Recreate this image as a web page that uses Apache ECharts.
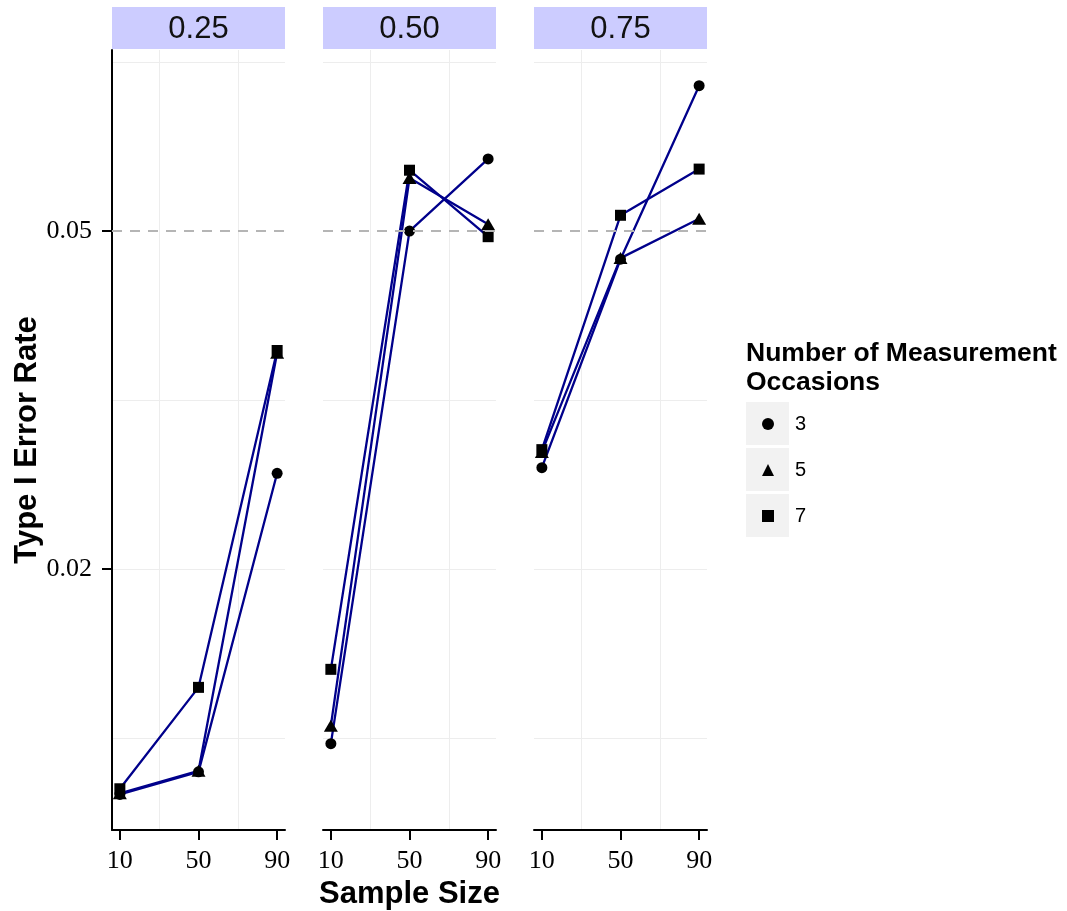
<!DOCTYPE html>
<html>
<head>
<meta charset="utf-8">
<script src="https://cdn.jsdelivr.net/npm/echarts@6/dist/echarts.min.js"></script>
<style>
  html, body { margin: 0; padding: 0; background: #ffffff; }
  #chart { width: 1067px; height: 911px; }
</style>
</head>
<body>
<div id="chart"></div>
<script>
// ---------------- data ----------------
const sampleSizes = [10, 50, 90];
const panelLabels = ['0.25', '0.50', '0.75'];
const occasions = ['3', '5', '7'];

// Type I error rate per facet and number of occasions, at n = 10, 50, 90
const p025_occ3 = [0.0000, 0.0020, 0.0285];
const p025_occ5 = [0.0001, 0.0021, 0.0392];
const p025_occ7 = [0.0005, 0.0095, 0.0394];

const p050_occ3 = [0.0045, 0.0500, 0.0564];
const p050_occ5 = [0.0061, 0.0547, 0.0506];
const p050_occ7 = [0.0111, 0.0554, 0.0495];

const p075_occ3 = [0.0290, 0.0475, 0.0629];
const p075_occ5 = [0.0304, 0.0476, 0.0511];
const p075_occ7 = [0.0306, 0.0514, 0.0555];

const yTicks = [0.02, 0.05];
const yMinorGrid = [0.005, 0.02, 0.035, 0.065];
const xTicks = [10, 50, 90];
const xMinorGrid = [30, 70];
const alphaLine = 0.05;

// ---------------- layout / style ----------------
const panelData = [
  [p025_occ3, p025_occ5, p025_occ7],
  [p050_occ3, p050_occ5, p050_occ7],
  [p075_occ3, p075_occ5, p075_occ7]
];
const panelLefts = [112, 323, 534];
const panelWidth = 173;
const panelTop = 50;
const panelHeight = 780;
const yMin = -0.00316, yMax = 0.06607;
const xMin = 6, xMax = 94;
const symbols = ['circle', 'triangle', 'rect'];
const symbolSizes = [11, [14, 12], 11];
const lineColor = '#00008B';
const gridColor = '#ededed';
const sans = '"Liberation Sans", Arial, sans-serif';
const serif = '"Liberation Serif", "Times New Roman", serif';

const chart = echarts.init(document.getElementById('chart'), null, { renderer: 'canvas' });

const grids = [], xAxes = [], yAxes = [], series = [], graphics = [];

panelLefts.forEach((left, p) => {
  grids.push({
    left: left, top: panelTop, width: panelWidth, height: panelHeight,
    containLabel: false, outerBoundsMode: 'none'
  });

  // main x axis
  xAxes.push({
    type: 'value', gridIndex: p, min: xMin, max: xMax, position: 'bottom',
    axisLine: { show: true, onZero: false, lineStyle: { color: '#000', width: 2 } },
    axisTick: { show: true, customValues: xTicks, length: 10, lineStyle: { color: '#000', width: 2 } },
    axisLabel: { customValues: xTicks, margin: 18, fontFamily: serif, fontSize: 26, color: '#000' },
    splitLine: { show: false },
    name: p === 1 ? 'Sample Size' : '',
    nameLocation: 'middle', nameGap: 48,
    nameTextStyle: { fontFamily: sans, fontWeight: 'bold', fontSize: 31, color: '#000' }
  });
  // minor vertical grid axis
  xAxes.push({
    type: 'value', gridIndex: p, min: xMin, max: xMax, position: 'top',
    axisLine: { show: false }, axisLabel: { show: false },
    axisTick: { show: false, customValues: xMinorGrid },
    splitLine: { show: true, lineStyle: { color: gridColor, width: 1 } }
  });

  // main y axis
  yAxes.push({
    type: 'value', gridIndex: p, min: yMin, max: yMax, position: 'left',
    axisLine: { show: p === 0, onZero: false, lineStyle: { color: '#000', width: 2 } },
    axisTick: { show: p === 0, customValues: yTicks, length: 10, lineStyle: { color: '#000', width: 2 } },
    axisLabel: {
      show: p === 0, customValues: yTicks, margin: 20,
      formatter: v => v.toFixed(2),
      fontFamily: serif, fontSize: 26, color: '#000'
    },
    splitLine: { show: false },
    name: p === 0 ? 'Type I Error Rate' : '',
    nameLocation: 'middle', nameGap: 66,
    nameTextStyle: { fontFamily: sans, fontWeight: 'bold', fontSize: 31, color: '#000' }
  });
  // horizontal grid axis
  yAxes.push({
    type: 'value', gridIndex: p, min: yMin, max: yMax, position: 'right',
    axisLine: { show: false }, axisLabel: { show: false },
    axisTick: { show: false, customValues: yMinorGrid },
    splitLine: { show: true, lineStyle: { color: gridColor, width: 1 } }
  });

  // lines
  occasions.forEach((occ, o) => {
    series.push({
      type: 'line', name: occ, xAxisIndex: 2 * p, yAxisIndex: 2 * p,
      data: sampleSizes.map((n, i) => [n, panelData[p][o][i]]),
      symbol: 'none', showSymbol: false,
      lineStyle: { color: lineColor, width: 2.3 },
      itemStyle: { color: '#000' },
      z: 2, silent: true
    });
  });
  // points
  occasions.forEach((occ, o) => {
    const s = {
      type: 'scatter', name: occ, xAxisIndex: 2 * p, yAxisIndex: 2 * p,
      data: sampleSizes.map((n, i) => [n, panelData[p][o][i]]),
      symbol: symbols[o], symbolSize: symbolSizes[o],
      itemStyle: { color: '#000', opacity: 1 },
      z: 3, silent: true
    };
    if (o === 2) {
      s.markLine = {
        silent: true, symbol: 'none', label: { show: false },
        lineStyle: { color: '#b5b5b5', type: [10, 8], width: 2 },
        data: [{ yAxis: alphaLine }], z: 5, animation: false
      };
    }
    series.push(s);
  });

  // facet strip
  graphics.push({
    type: 'rect', z: 1,
    shape: { x: left, y: 7, width: panelWidth, height: 42 },
    style: { fill: '#ccccff' }
  });
  graphics.push({
    type: 'text', z: 2,
    style: {
      text: panelLabels[p], x: left + panelWidth / 2, y: 29,
      align: 'center', verticalAlign: 'middle',
      font: '31px ' + sans, fill: '#111'
    }
  });
});

// legend key backgrounds
occasions.forEach((occ, o) => {
  graphics.push({
    type: 'rect', z: 0,
    shape: { x: 746, y: 402 + 46 * o, width: 43, height: 43 },
    style: { fill: '#f2f2f2' }
  });
});

const option = {
  backgroundColor: '#ffffff',
  animation: false,
  title: {
    text: 'Number of Measurement\nOccasions',
    left: 746, top: 339, padding: 0,
    textStyle: { fontFamily: sans, fontWeight: 'bold', fontSize: 26.5, lineHeight: 29, color: '#000' }
  },
  legend: {
    orient: 'vertical', left: 762, top: 414, padding: 0,
    itemWidth: 12, itemHeight: 12, itemGap: 26,
    data: occasions.map((occ, o) => ({ name: occ, icon: symbols[o] })),
    itemStyle: { color: '#000', borderWidth: 0 },
    textStyle: { fontFamily: sans, fontSize: 20, lineHeight: 20, color: '#000', padding: [0, 0, 0, 16] },
    selectedMode: false
  },
  grid: grids,
  xAxis: xAxes,
  yAxis: yAxes,
  series: series,
  graphic: graphics
};

chart.setOption(option);
</script>
</body>
</html>
